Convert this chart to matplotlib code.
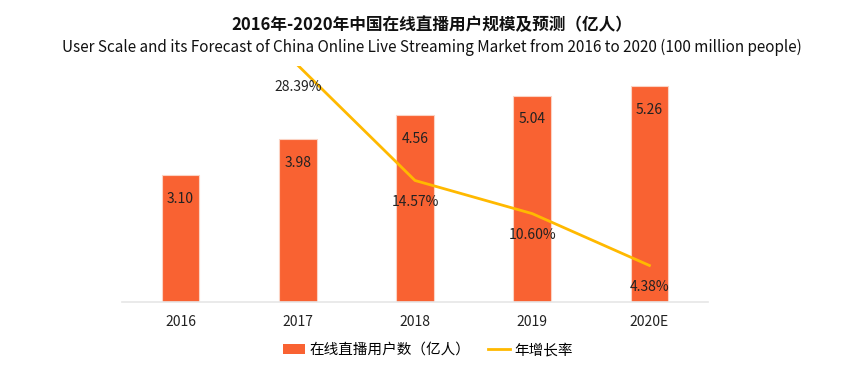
import matplotlib.pyplot as plt
from matplotlib.lines import Line2D
from matplotlib.patches import Patch

plt.rcParams['font.family'] = ['Noto Sans CJK SC', 'DejaVu Sans']

years = ['2016', '2017', '2018', '2019', '2020E']
users = [3.10, 3.98, 4.56, 5.04, 5.26]
growth_years = ['2017', '2018', '2019', '2020E']
growth = [28.39, 14.57, 10.60, 4.38]

bar_color = '#F96232'
line_color = '#FFB900'

fig = plt.figure(figsize=(8.65, 3.73), dpi=100)
W, H = 865, 373
ax = fig.add_axes([122 / W, 1 - 302 / H, (708 - 122) / W, (302 - 66) / H])

x = list(range(len(years)))
ax.bar(x, users, width=0.32, color=bar_color, edgecolor='#FBD3C4', linewidth=0.8, zorder=2)
for i, v in enumerate(users):
    ax.annotate(f'{v:.2f}', (i, v), xytext=(0, -17), textcoords='offset points',
                ha='center', va='center', fontsize=10, color='#222222', zorder=5)

ax.set_xlim(-0.5, len(years) - 0.5)
ax.set_ylim(0, 5.76)
ax.set_yticks([])
ax.set_xticks(x)
ax.set_xticklabels(years, fontsize=10, color='#222222')
ax.tick_params(axis='x', length=0, pad=9)
for s in ['top', 'right', 'left']:
    ax.spines[s].set_visible(False)
ax.spines['bottom'].set_color('#E6E6E6')
ax.spines['bottom'].set_linewidth(1.2)

ax2 = ax.twinx()
gx = [years.index(y) for y in growth_years]
ax2.plot(gx, growth, color=line_color, linewidth=2, zorder=3)
for xi, g in zip(gx, growth):
    ax2.annotate(f'{g:.2f}%', (xi, g), xytext=(0, -15.5), textcoords='offset points',
                 ha='center', va='center', fontsize=10, color='#222222', zorder=5,
                 annotation_clip=False)
ax2.set_ylim(0, 28.3)
ax2.set_yticks([])
for s in ['top', 'right', 'left', 'bottom']:
    ax2.spines[s].set_visible(False)

fig.text(432 / W, 1 - 25 / H, '2016年-2020年中国在线直播用户规模及预测（亿人）',
         ha='center', va='center', fontsize=12, fontweight='bold', color='#111111')
fig.text(432 / W, 1 - 47 / H,
         'User Scale and its Forecast of China Online Live Streaming Market from 2016 to 2020 (100 million people)',
         ha='center', va='center', fontsize=11, color='#111111')

handles = [Patch(facecolor=bar_color, edgecolor='none'),
           Line2D([0], [0], color=line_color, linewidth=2)]
fig.legend(handles, ['在线直播用户数（亿人）', '年增长率'], loc='center',
           bbox_to_anchor=(428 / W, 1 - 350 / H), ncol=2, frameon=False,
           fontsize=10.5, handlelength=1.5, handletextpad=0.3, columnspacing=1.2)

fig.savefig('out.png', dpi=100)
